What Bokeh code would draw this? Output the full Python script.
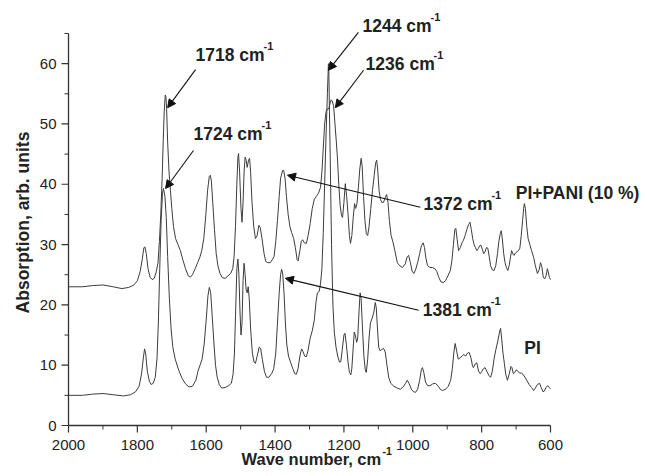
import math
from bokeh.plotting import figure
from bokeh.models import Range1d, Arrow, NormalHead, ColumnDataSource
from bokeh.core.properties import value
from bokeh.embed import file_html
from bokeh.resources import INLINE

# ---------------- data ----------------
pi_wn = [2000, 1960, 1930, 1900, 1870, 1840, 1820, 1805, 1795, 1788, 1782, 1779, 1776, 1771, 1765, 1760,
         1754, 1748, 1743, 1739, 1735, 1731, 1727, 1724, 1720, 1716, 1712, 1707, 1702, 1697, 1690, 1680,
         1670, 1660, 1650, 1640, 1630, 1624, 1618, 1612, 1606, 1600, 1595, 1591, 1587, 1583, 1578, 1573,
         1568, 1562, 1555, 1545, 1535, 1527, 1522, 1518, 1514, 1511, 1508, 1505, 1502, 1499, 1496, 1493,
         1490, 1487, 1484, 1481, 1478, 1475, 1471, 1466, 1461, 1457, 1452, 1446, 1442, 1437, 1431, 1425,
         1418, 1410, 1404, 1398, 1393, 1388, 1384, 1381, 1378, 1374, 1370, 1366, 1361, 1355, 1349, 1343,
         1338, 1333, 1328, 1323, 1319, 1314, 1309, 1304, 1298, 1292, 1286, 1281, 1277, 1272, 1268, 1264,
         1260, 1256, 1252, 1248, 1245, 1244, 1242, 1240, 1236, 1232, 1228, 1223, 1218, 1213, 1209, 1205,
         1200, 1197, 1193, 1188, 1184, 1180, 1177, 1173, 1170, 1167, 1163, 1160, 1156, 1153, 1150, 1146,
         1142, 1138, 1135, 1131, 1127, 1123, 1118, 1113, 1109, 1106, 1103, 1099, 1095, 1090, 1085, 1080,
         1075, 1070, 1064, 1055, 1045, 1036, 1028, 1021, 1016, 1011, 1004, 998, 992, 986, 980, 975,
         972, 968, 963, 957, 950, 942, 934, 926, 920, 914, 905, 897, 890, 885, 881, 877,
         873, 868, 863, 857, 852, 847, 841, 836, 831, 827, 824, 819, 814, 809, 804, 799,
         795, 790, 785, 779, 774, 769, 764, 759, 753, 748, 745, 742, 738, 734, 730, 725,
         720, 715, 712, 708, 704, 700, 696, 690, 685, 680, 674, 668, 662, 655, 649, 644,
         638, 632, 627, 622, 618, 613, 608, 604, 600]
pi_abs = [5.0, 5.0, 5.2, 5.3, 5.1, 4.9, 5.1, 5.6, 6.5, 8.5, 11.5, 12.7, 12.0, 9.0, 7.3, 6.8,
          7.0, 8.0, 11.0, 17.0, 26.0, 34.0, 38.5, 39.3, 38.0, 34.5, 28.0, 21.0, 16.0, 13.0, 11.0, 9.2,
          7.8, 6.9, 6.4, 6.5, 7.5, 9.0, 10.0, 11.0, 13.5, 17.5, 21.5, 22.9, 22.0, 18.5, 14.0, 10.0,
          8.0, 6.8, 6.2, 6.3, 6.6, 7.0, 8.5, 12.0, 20.0, 26.0, 27.6, 25.0, 19.0, 15.0, 17.0, 24.0,
          26.9, 25.0, 22.5, 22.0, 23.0, 21.0, 16.0, 12.0, 10.5, 10.3, 11.5, 13.0, 12.8, 11.0, 9.0, 8.0,
          8.0, 8.6, 9.4, 12.0, 17.0, 22.0, 25.0, 25.9, 25.3, 22.0, 17.0, 13.5, 11.5, 10.5, 9.5, 8.6,
          8.5, 9.5, 11.5, 12.7, 12.3, 11.5, 11.4, 12.5, 14.5, 15.7, 17.5, 20.5, 22.0, 22.2, 23.5, 26.0,
          32.0, 40.0, 48.0, 55.0, 60.0, 59.5, 52.0, 45.0, 30.0, 20.0, 15.5, 13.0, 11.5, 10.5, 10.6, 12.5,
          15.0, 15.3, 13.5, 10.5, 8.8, 8.4, 9.5, 13.0, 15.5, 15.0, 13.8, 14.5, 19.0, 22.0, 21.0, 16.0,
          11.5, 9.2, 8.8, 11.0, 14.5, 17.0, 17.8, 18.8, 20.4, 19.5, 16.5, 13.0, 12.4, 12.6, 12.8, 12.2,
          10.0, 8.0, 7.0, 6.5, 6.2, 6.0, 6.4, 7.0, 7.5, 7.0, 6.0, 5.6, 5.5, 6.0, 7.5, 9.3,
          9.6, 8.8, 7.2, 6.6, 6.6, 6.9, 7.0, 6.5, 6.0, 5.8, 6.0, 6.5, 7.5, 9.5, 12.0, 13.6,
          12.5, 11.0, 11.2, 11.5, 11.8, 11.5, 12.0, 12.1, 11.2, 10.0, 9.6, 10.2, 10.4, 9.0, 8.6, 9.0,
          9.4, 9.6, 9.0, 8.3, 8.0, 9.0, 11.0, 12.5, 14.0, 15.5, 16.1, 14.5, 12.0, 10.3, 8.5, 7.5,
          8.5, 9.8, 9.6, 8.6, 8.8, 9.2, 9.1, 8.7, 8.7, 8.5, 8.0, 7.4, 6.8, 6.3, 5.8, 6.2,
          6.8, 7.0, 6.3, 5.6, 5.7, 6.3, 6.6, 6.3, 6.1]

pani_wn = [2000, 1960, 1930, 1900, 1870, 1845, 1825, 1810, 1800, 1792, 1786, 1781, 1778, 1774, 1769, 1763,
           1757, 1751, 1745, 1740, 1736, 1732, 1728, 1725, 1722, 1719, 1717, 1715, 1712, 1708, 1704, 1700,
           1695, 1689, 1682, 1675, 1668, 1660, 1652, 1646, 1640, 1632, 1625, 1619, 1613, 1607, 1601, 1596,
           1591, 1588, 1585, 1581, 1576, 1571, 1566, 1560, 1553, 1545, 1537, 1529, 1523, 1519, 1515, 1511,
           1508, 1506, 1503, 1499, 1496, 1493, 1490, 1487, 1484, 1481, 1477, 1474, 1471, 1467, 1462, 1457,
           1452, 1447, 1443, 1438, 1432, 1427, 1421, 1414, 1408, 1403, 1398, 1393, 1388, 1384, 1378, 1375,
           1371, 1367, 1362, 1357, 1352, 1346, 1341, 1336, 1333, 1328, 1324, 1320, 1315, 1309, 1304, 1298,
           1292, 1286, 1280, 1274, 1268, 1264, 1260, 1256, 1252, 1248, 1244, 1240, 1237, 1234, 1230, 1226,
           1222, 1219, 1215, 1211, 1207, 1204, 1200, 1196, 1192, 1188, 1184, 1181, 1177, 1173, 1169, 1166,
           1162, 1158, 1154, 1150, 1147, 1143, 1139, 1135, 1131, 1127, 1122, 1117, 1112, 1108, 1105, 1102,
           1098, 1094, 1090, 1085, 1080, 1076, 1072, 1068, 1063, 1058, 1052, 1045, 1038, 1030, 1022, 1016,
           1012, 1007, 1002, 997, 992, 986, 980, 975, 970, 966, 962, 957, 950, 943, 936, 930,
           924, 918, 912, 905, 898, 891, 886, 882, 878, 875, 871, 867, 862, 857, 853, 848,
           843, 838, 834, 830, 826, 822, 818, 814, 810, 806, 802, 798, 794, 790, 786, 782,
           778, 774, 769, 764, 759, 754, 750, 746, 743, 740, 736, 732, 728, 724, 720, 716,
           713, 709, 706, 702, 698, 693, 689, 685, 681, 678, 676, 673, 669, 665, 660, 655,
           649, 644, 638, 633, 629, 625, 621, 617, 613, 609, 606, 603, 600]
pani_abs = [23.0, 23.0, 23.2, 23.3, 23.0, 22.7, 22.9, 23.3, 24.0, 25.5, 27.5, 29.5, 29.6, 28.5, 26.0, 24.6,
            24.2, 24.4, 25.5, 27.0, 30.5, 35.0, 41.0, 47.0, 52.0, 54.8, 54.5, 52.5, 47.0, 42.0, 39.0, 36.0,
            33.0, 31.0, 30.0, 29.0, 27.5, 26.0, 24.8, 24.6, 25.0, 26.0, 27.0, 27.8, 29.0, 31.0, 35.0, 39.0,
            41.3, 41.5, 40.5, 37.0, 32.5, 28.5, 26.5, 25.2, 24.5, 24.4, 24.8, 25.2, 26.0, 28.0, 33.0, 40.0,
            44.5, 45.1, 42.0, 36.0, 33.7, 37.0, 42.0, 44.5, 44.0, 42.8, 44.0, 44.3, 42.0, 37.0, 33.0, 31.0,
            31.5, 33.2, 32.8, 31.0, 28.5, 27.2, 27.0, 27.0, 27.5, 28.0, 30.5, 34.0, 38.0, 41.0, 42.3, 42.3,
            41.0, 38.0, 35.0, 33.0, 32.0, 31.0, 29.5, 27.5, 27.3, 29.0, 30.5, 30.8, 30.3, 30.2, 31.5, 33.5,
            36.0, 37.5, 38.0, 38.5, 39.5, 42.0, 46.0, 50.0, 52.0, 52.5, 52.5, 53.5, 54.0, 53.8, 53.0, 50.0,
            47.0, 44.5, 40.0, 36.5, 34.8, 34.5, 37.0, 40.1, 38.0, 35.0, 31.5, 30.2, 31.5, 34.5, 36.8, 36.0,
            36.8, 39.5, 42.5, 44.3, 43.0, 38.0, 34.0, 31.8, 31.5, 33.0, 36.0, 39.0, 41.5, 43.5, 44.0, 42.5,
            39.0, 37.5, 37.0, 37.0, 37.8, 38.3, 37.0, 34.0, 31.5, 30.5, 29.0, 27.0, 26.5, 26.2, 26.8, 28.0,
            28.2, 27.0, 25.6, 25.2, 25.8, 27.0, 28.5, 29.8, 30.3, 29.5, 27.8, 26.5, 26.2, 26.2, 26.0, 25.5,
            24.5, 23.8, 23.7, 24.0, 24.8, 25.7, 27.5, 30.0, 32.5, 32.7, 30.8, 29.0, 29.5, 30.3, 30.7, 31.5,
            32.5, 33.3, 33.7, 32.5, 31.0, 30.0, 29.5, 29.0, 29.3, 29.8, 29.9, 29.2, 28.5, 28.8, 29.5, 29.4,
            28.0, 26.5, 25.8, 25.7, 26.5, 28.5, 30.5, 31.8, 32.3, 31.0, 28.5, 27.0, 26.2, 25.7, 26.5, 28.0,
            29.0, 28.4, 28.2, 28.6, 28.8, 29.0, 29.4, 31.5, 34.0, 36.0, 36.8, 36.0, 33.0, 31.0, 30.0, 29.0,
            27.9, 26.5, 25.2, 25.8, 27.0, 26.3, 24.6, 24.3, 24.8, 26.0, 25.3, 24.5, 24.2]

x_ticks = [2000, 1800, 1600, 1400, 1200, 1000, 800, 600]
x_tick_labels = ["2000", "1800", "1600", "1400", "1200", "1000", "800", "600"]
x_minor = [1900, 1700, 1500, 1300, 1100, 900, 700]
y_ticks = [0, 10, 20, 30, 40, 50, 60]
y_tick_labels = ["0", "10", "20", "30", "40", "50", "60"]
y_minor = [5, 15, 25, 35, 45, 55, 65]
x_lo, x_hi = 2000, 600
y_lo, y_hi = 0, 65

# peak annotations: label, text anchor (wn, abs), arrow start, arrow end
ann_text = ["1718 cm", "1724 cm", "1244 cm", "1236 cm", "1372 cm", "1381 cm"]
ann_tx = [1631, 1637, 1146, 1137, 969, 971]
ann_ty = [60.4, 47.3, 65.3, 58.9, 35.7, 18.2]
arr_x0 = [1631, 1637, 1158, 1143, 978, 983]
arr_y0 = [59.0, 45.6, 65.2, 58.9, 36.2, 19.1]
arr_x1 = [1712, 1718, 1245, 1225, 1364, 1370]
arr_y1 = [52.7, 39.3, 58.9, 52.7, 41.5, 24.4]

series_names = ["PI+PANI (10 %)", "PI"]
series_tx = [701, 676]
series_ty = [37.6, 11.9]

x_title = "Wave number, cm"
y_title = "Absorption, arb. units"

# ---------------- layout (pixels) ----------------
W, H = 639, 468
FL, FR, FT, FB = 68, 550, 33, 425          # axis box inside the canvas
kx = (x_lo - x_hi) / (FR - FL)             # wave-number units per pixel
ky = (y_hi - y_lo) / (FB - FT)             # absorption units per pixel
LIFT = -6                                  # baseline correction for bold texts (px)

FONT = "Liberation Sans"
INK = "#222222"
AXIS = "#333333"
CURVE = "#3c3c3c"

p = figure(width=W, height=H, output_backend="svg", toolbar_location=None,
           x_range=Range1d(x_lo + FL * kx, x_hi - (W - FR) * kx),
           y_range=Range1d(y_lo - (H - FB) * ky, y_hi + FT * ky),
           min_border=0, x_axis_type=None, y_axis_type=None)
p.outline_line_color = None
p.grid.visible = False
p.background_fill_color = "white"
p.border_fill_color = "white"

# axes drawn as glyphs
p.segment(x0=[x_lo], y0=[y_lo], x1=[x_hi], y1=[y_lo], line_color=AXIS, line_width=1.3)
p.segment(x0=[x_lo], y0=[y_lo], x1=[x_lo], y1=[y_hi], line_color=AXIS, line_width=1.3)
p.segment(x0=x_ticks, y0=[y_lo] * len(x_ticks), x1=x_ticks, y1=[y_lo - 7 * ky] * len(x_ticks),
          line_color=AXIS, line_width=1.2)
p.segment(x0=x_minor, y0=[y_lo] * len(x_minor), x1=x_minor, y1=[y_lo - 4 * ky] * len(x_minor),
          line_color=AXIS, line_width=1.0)
p.segment(x0=[x_lo] * len(y_ticks), y0=y_ticks, x1=[x_lo + 7 * kx] * len(y_ticks), y1=y_ticks,
          line_color=AXIS, line_width=1.2)
p.segment(x0=[x_lo] * len(y_minor), y0=y_minor, x1=[x_lo + 4 * kx] * len(y_minor), y1=y_minor,
          line_color=AXIS, line_width=1.0)
p.text(x=x_ticks, y=[y_lo] * len(x_ticks), text=x_tick_labels, y_offset=14,
       text_font=value(FONT), text_font_size="15px", text_color=INK,
       text_align="center", text_baseline="top")
p.text(x=[x_lo] * len(y_ticks), y=y_ticks, text=y_tick_labels, x_offset=-12,
       text_font=value(FONT), text_font_size="15px", text_color=INK,
       text_align="right", text_baseline="middle")

# spectra
src_pi = ColumnDataSource(dict(x=pi_wn, y=pi_abs))
src_pani = ColumnDataSource(dict(x=pani_wn, y=pani_abs))
p.line("x", "y", source=src_pani, line_color=CURVE, line_width=1.0)
p.line("x", "y", source=src_pi, line_color=CURVE, line_width=1.0)

BOLD = dict(text_font=value(FONT), text_font_style="bold", text_color=INK, text_baseline="alphabetic")

# peak labels with superscript -1
p.text(x=ann_tx, y=ann_ty, text=ann_text, y_offset=LIFT, text_font_size="17.5px",
       text_align="left", **BOLD)
p.text(x=ann_tx, y=ann_ty, text=["-1"] * len(ann_text), x_offset=68, y_offset=LIFT - 9,
       text_font_size="11px", text_align="left", **BOLD)

for i in range(len(arr_x0)):
    p.add_layout(Arrow(x_start=arr_x0[i], y_start=arr_y0[i], x_end=arr_x1[i], y_end=arr_y1[i],
                       line_color="#111111", line_width=1.1,
                       end=NormalHead(size=8, fill_color="#111111", line_color="#111111", line_width=1)))

p.text(x=series_tx, y=series_ty, text=series_names, y_offset=LIFT, text_font_size="17.5px",
       text_align="left", **BOLD)

# axis titles
xt_x = x_lo - (241 - FL) * kx
xt_y = y_lo - (464 - FB) * ky
p.text(x=[xt_x], y=[xt_y], text=[x_title], y_offset=LIFT, text_font_size="16.5px",
       text_align="left", **BOLD)
p.text(x=[xt_x], y=[xt_y], text=["-1"], x_offset=141, y_offset=LIFT - 8, text_font_size="10.5px",
       text_align="left", **BOLD)
yt_x = x_lo + (FL - 28) * kx
yt_y = y_lo + (FB - 222) * ky
p.text(x=[yt_x], y=[yt_y], text=[y_title], angle=math.pi / 2, x_offset=LIFT,
       text_font_size="17.5px", text_align="center", **BOLD)

open("out.html", "w").write(file_html(p, INLINE))
